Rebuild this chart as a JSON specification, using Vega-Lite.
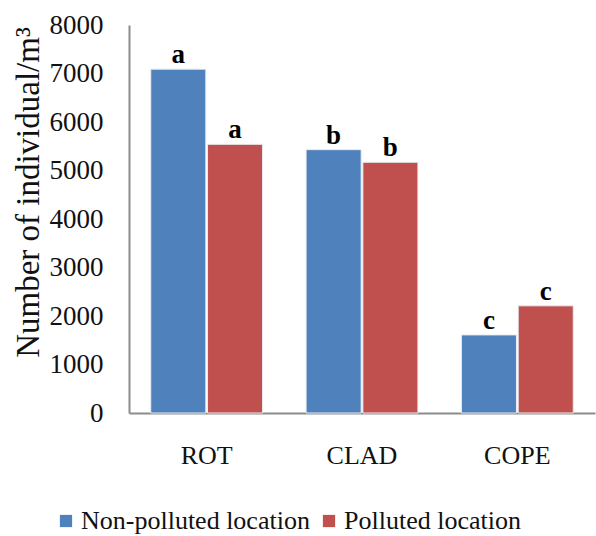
{
  "$schema": "https://vega.github.io/schema/vega-lite/v6.json",
  "autosize": "none",
  "width": 466,
  "height": 388,
  "padding": {"left": 129, "top": 25, "right": 1, "bottom": 123},
  "background": "white",
  "config": {
    "font": "Liberation Serif",
    "view": {"stroke": null}
  },
  "data": {
    "values": [
      {"group": "ROT", "location": "Non-polluted location", "value": 7090, "letter": "a"},
      {"group": "ROT", "location": "Polluted location", "value": 5540, "letter": "a"},
      {"group": "CLAD", "location": "Non-polluted location", "value": 5430, "letter": "b"},
      {"group": "CLAD", "location": "Polluted location", "value": 5170, "letter": "b"},
      {"group": "COPE", "location": "Non-polluted location", "value": 1610, "letter": "c"},
      {"group": "COPE", "location": "Polluted location", "value": 2210, "letter": "c"}
    ]
  },
  "encoding": {
    "x": {
      "field": "group",
      "type": "nominal",
      "sort": ["ROT", "CLAD", "COPE"],
      "scale": {"paddingInner": 0.28, "paddingOuter": 0.14},
      "axis": {
        "title": null,
        "labelAngle": 0,
        "labelFontSize": 26,
        "labelColor": "#111",
        "labelPadding": 29,
        "ticks": false,
        "domainColor": "#8c8c8c",
        "domainWidth": 2
      }
    },
    "xOffset": {"field": "location", "type": "nominal", "sort": ["Non-polluted location", "Polluted location"], "scale": {"paddingInner": 0.03}},
    "y": {
      "field": "value",
      "type": "quantitative",
      "scale": {"domain": [0, 8000]},
      "axis": {
        "title": "Number of individual/m³",
        "titleFont": "Liberation Serif",
        "titleFontWeight": "normal",
        "titleFontSize": 33,
        "titleColor": "#111",
        "titlePadding": 4,
        "titleY": 167,
        "values": [0, 1000, 2000, 3000, 4000, 5000, 6000, 7000, 8000],
        "format": "d",
        "labelOverlap": false,
        "labelFontSize": 27,
        "labelColor": "#111",
        "labelPadding": 26,
        "ticks": false,
        "grid": false,
        "domainColor": "#8c8c8c",
        "domainWidth": 2
      }
    }
  },
  "layer": [
    {
      "mark": {"type": "bar", "stroke": "#e8edf3", "strokeWidth": 1},
      "encoding": {
        "color": {
          "field": "location",
          "type": "nominal",
          "sort": ["Non-polluted location", "Polluted location"],
          "scale": {"range": ["#4F81BD", "#C0504D"]},
          "legend": {
            "title": null,
            "orient": "none",
            "direction": "horizontal",
            "legendX": -76,
            "legendY": 483,
            "symbolType": "square",
            "symbolSize": 150,
            "symbolStrokeWidth": 0,
            "labelFontSize": 26,
            "labelLimit": 400,
            "labelColor": "#111",
            "labelOffset": 2,
            "columnPadding": 6
          }
        }
      }
    },
    {
      "mark": {"type": "text", "fontWeight": "bold", "fontSize": 27, "baseline": "alphabetic", "dy": -6, "color": "#000"},
      "encoding": {"text": {"field": "letter"}}
    }
  ]
}
